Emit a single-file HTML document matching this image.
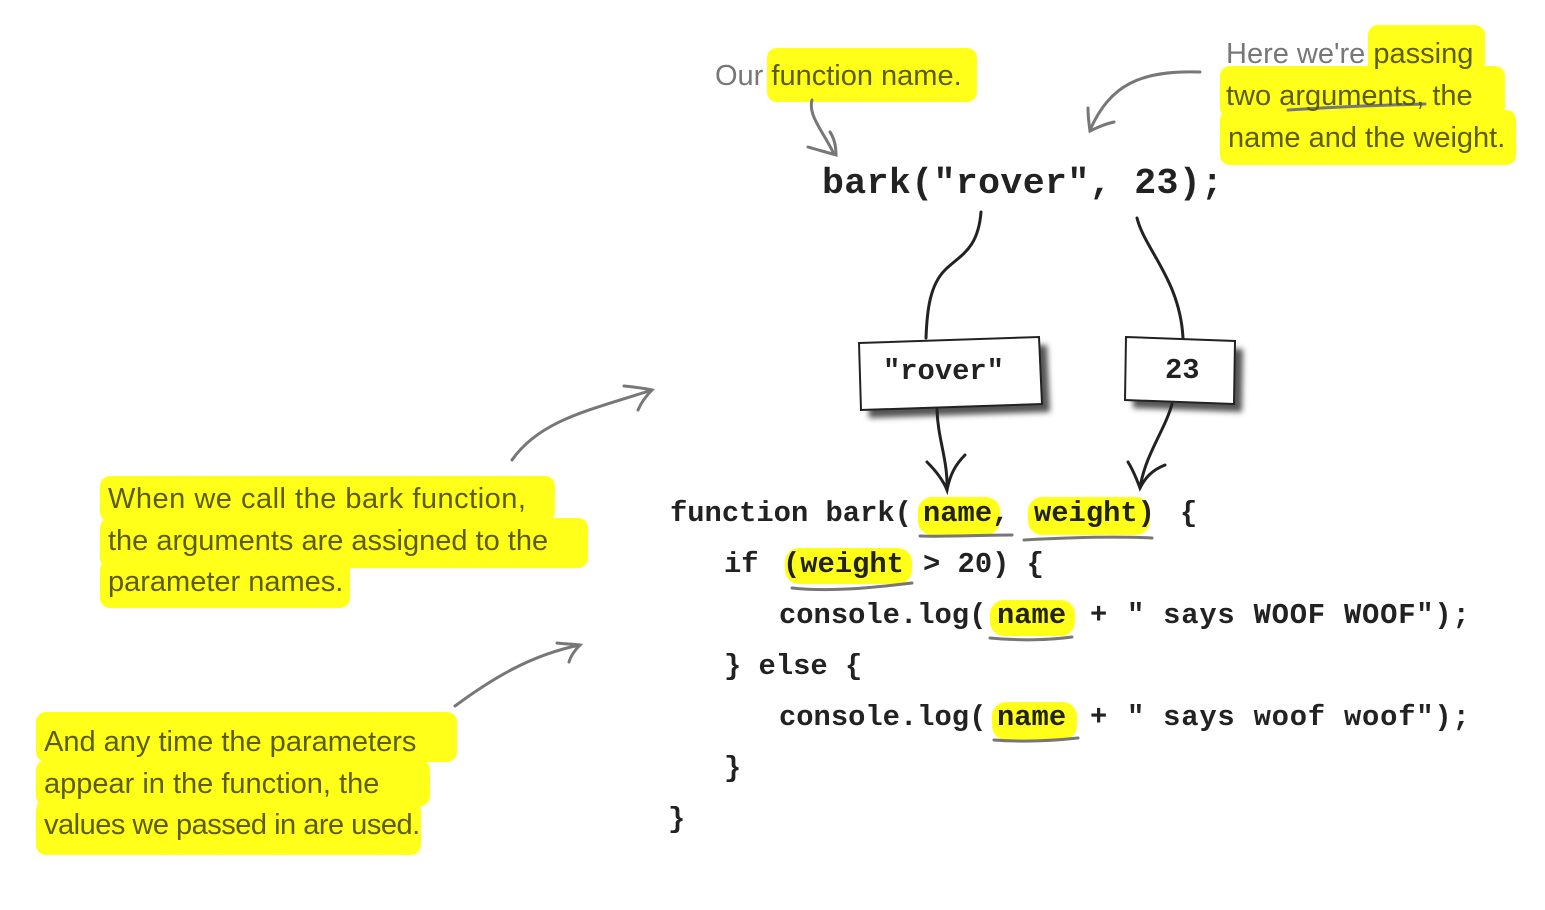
<!DOCTYPE html>
<html><head><meta charset="utf-8"><style>
body{margin:0;width:1545px;height:910px;background:#fff;position:relative;overflow:hidden}
.c{position:absolute;font-family:"Liberation Mono",monospace;font-weight:bold;font-size:28.8px;color:#222;white-space:pre;line-height:1}
.h{position:absolute;background:#ffff1a;border-radius:10px}
.t{position:absolute;font-family:"Liberation Sans Narrow","Liberation Sans",sans-serif;font-size:29px;color:#5c5c00;white-space:pre;line-height:1}
.g{color:#777}
svg{position:absolute;left:0;top:0}
</style></head><body>
<div class="h" style="left:767px;top:48px;width:210px;height:54px"></div>
<div class="h" style="left:1368px;top:25px;width:117px;height:50px"></div>
<div class="h" style="left:1220px;top:66px;width:285px;height:52px"></div>
<div class="h" style="left:1220px;top:110px;width:296px;height:55px"></div>
<div class="h" style="left:100px;top:476px;width:455px;height:46px"></div>
<div class="h" style="left:100px;top:518px;width:488px;height:50px"></div>
<div class="h" style="left:100px;top:560px;width:250px;height:48px"></div>
<div class="h" style="left:36px;top:712px;width:421px;height:50px"></div>
<div class="h" style="left:36px;top:760px;width:394px;height:46px"></div>
<div class="h" style="left:36px;top:800px;width:385px;height:55px"></div>
<div class="h" style="left:918px;top:497px;width:82px;height:38px;border-radius:14px"></div>
<div class="h" style="left:1028px;top:497px;width:122px;height:38px;border-radius:14px"></div>
<div class="h" style="left:785px;top:548px;width:127px;height:36px;border-radius:14px"></div>
<div class="h" style="left:990px;top:600px;width:85px;height:36px;border-radius:14px"></div>
<div class="h" style="left:992px;top:702px;width:85px;height:38px;border-radius:14px"></div>

<svg width="1545" height="910">
<defs><filter id="s"><feGaussianBlur stdDeviation="3"/></filter></defs>
<polygon points="867,351 1047,345 1050,412 869,418" fill="#555" filter="url(#s)"/>
<polygon points="859,343 1039,337 1042,404 861,410" fill="#fff" stroke="#222" stroke-width="2"/>
<polygon points="1134,345 1243,349 1242,412 1133,408" fill="#555" filter="url(#s)"/>
<polygon points="1126,337 1235,341 1234,404 1125,400" fill="#fff" stroke="#222" stroke-width="2"/>
<g fill="none" stroke="#222" stroke-width="3" stroke-linecap="round">
<path d="M981 212 C978 250 960 255 945 270 C930 285 927 310 926 338"/>
<path d="M1137 218 C1145 250 1180 280 1183 338"/>
<path d="M937 410 C938 440 948 460 947 490"/>
<path d="M927 462 C935 470 943 480 947 490 C950 475 955 465 965 455"/>
<path d="M1172 404 C1165 430 1145 455 1140 488"/>
<path d="M1128 462 C1133 470 1137 480 1140 488 C1145 478 1152 470 1165 465"/>
</g>
<g fill="none" stroke="#777" stroke-width="3" stroke-linecap="round">
<path d="M812 100 C808 115 822 130 833 152"/>
<path d="M808 147 C818 150 826 152 836 155 C836 145 834 138 830 132"/>
<path d="M1200 72 C1140 70 1110 85 1090 130"/>
<path d="M1088 108 C1088 116 1089 124 1090 131 C1098 127 1105 124 1114 122"/>
<path d="M512 460 C540 420 590 410 652 390"/>
<path d="M624 386 C634 387 644 388 652 390 C646 396 641 403 638 410"/>
<path d="M455 706 C490 680 530 655 580 645"/>
<path d="M557 643 C565 644 573 644 580 645 C575 650 571 655 569 662"/>
</g>
<g fill="none" stroke="#777" stroke-width="3" stroke-linecap="round">
<path d="M920 536 C950 537 980 535 1012 535"/>
<path d="M1024 540 C1060 538 1110 536 1152 538"/>
<path d="M792 588 C830 592 870 588 912 583"/>
<path d="M990 638 C1020 641 1050 640 1072 637"/>
<path d="M994 740 C1020 742 1050 741 1078 738"/>
<path d="M1288 110 C1320 108 1350 106 1425 104"/>
</g>
</svg>

<div class="c" style="left:822px;top:166px;font-size:36.5px;letter-spacing:0.4px">bark("rover", 23);</div>
<div class="c" style="left:883px;top:358px">"rover"</div>
<div class="c" style="left:1165px;top:357px">23</div>

<div class="c" style="left:670px;top:500px">function bark(</div>
<div class="c" style="left:923px;top:500px">name,</div>
<div class="c" style="left:1034px;top:500px">weight)</div>
<div class="c" style="left:1180px;top:500px">{</div>

<div class="c" style="left:724px;top:551px">if</div>
<div class="c" style="left:783px;top:551px">(weight</div>
<div class="c" style="left:923px;top:551px">&gt; 20) {</div>

<div class="c" style="left:779px;top:602px">console.log(</div>
<div class="c" style="left:997px;top:602px">name</div>
<div class="c" style="left:1090px;top:602px">+</div>
<div class="c" style="left:1127px;top:602px;letter-spacing:0.8px">" says WOOF WOOF");</div>

<div class="c" style="left:724px;top:653px">} else {</div>

<div class="c" style="left:779px;top:704px">console.log(</div>
<div class="c" style="left:997px;top:704px">name</div>
<div class="c" style="left:1090px;top:704px">+</div>
<div class="c" style="left:1127px;top:704px;letter-spacing:0.8px">" says woof woof");</div>

<div class="c" style="left:724px;top:755px">}</div>
<div class="c" style="left:668px;top:806px">}</div>

<div class="t" style="left:715px;top:62px"><span class="g">Our</span> function name.</div>
<div class="t" style="left:1226px;top:40px"><span class="g">Here we're</span> passing</div>
<div class="t" style="left:1226px;top:82px">two arguments, the</div>
<div class="t" style="left:1228px;top:124px">name and the weight.</div>
<div class="t" style="left:108px;top:485px;letter-spacing:0.5px">When we call the bark function,</div>
<div class="t" style="left:108px;top:527px">the arguments are assigned to the</div>
<div class="t" style="left:108px;top:568px">parameter names.</div>
<div class="t" style="left:44px;top:728px">And any time the parameters</div>
<div class="t" style="left:44px;top:770px">appear in the function, the</div>
<div class="t" style="left:44px;top:811px;letter-spacing:-0.5px">values we passed in are used.</div>
</body></html>
